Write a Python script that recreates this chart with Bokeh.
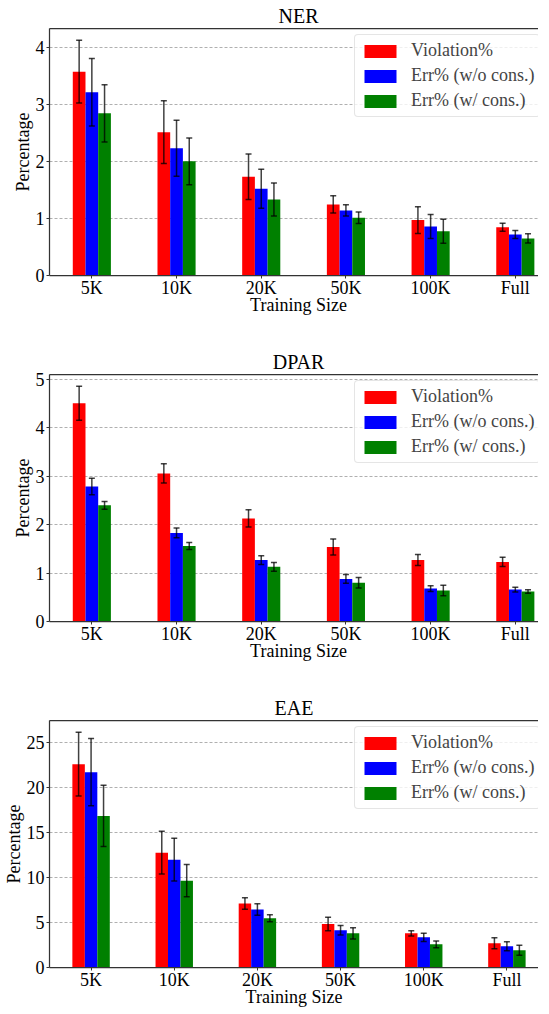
import numpy as np
from bokeh.plotting import figure
from bokeh.models import (ColumnDataSource, Range1d, FixedTicker, LinearAxis,
                          Whisker, TeeHead, Legend, LegendItem)
from bokeh.layouts import column
from bokeh.embed import file_html
from bokeh.resources import INLINE

# ---------------- data ----------------
sizes = ["5K", "10K", "20K", "50K", "100K", "Full"]
series_names = ["Violation%", "Err% (w/o cons.)", "Err% (w/ cons.)"]
colors = ["#ff0000", "#0000ff", "#008000"]

ner_violation = [3.57, 2.51, 1.73, 1.245, 0.97, 0.845]
ner_violation_sd = [0.55, 0.55, 0.40, 0.15, 0.235, 0.07]
ner_err_wo = [3.21, 2.23, 1.52, 1.14, 0.86, 0.72]
ner_err_wo_sd = [0.59, 0.49, 0.34, 0.10, 0.21, 0.07]
ner_err_w = [2.84, 2.00, 1.33, 1.01, 0.776, 0.65]
ner_err_w_sd = [0.50, 0.41, 0.29, 0.10, 0.21, 0.08]
ner_yticks = [0, 1, 2, 3, 4]

dpar_violation = [4.51, 3.06, 2.13, 1.54, 1.27, 1.23]
dpar_violation_sd = [0.35, 0.20, 0.18, 0.165, 0.115, 0.095]
dpar_err_wo = [2.79, 1.83, 1.27, 0.88, 0.68, 0.66]
dpar_err_wo_sd = [0.17, 0.10, 0.09, 0.09, 0.06, 0.05]
dpar_err_w = [2.40, 1.56, 1.13, 0.80, 0.64, 0.62]
dpar_err_w_sd = [0.08, 0.07, 0.09, 0.11, 0.11, 0.035]
dpar_yticks = [0, 1, 2, 3, 4, 5]

eae_violation = [22.64, 12.78, 7.13, 4.84, 3.80, 2.70]
eae_violation_sd = [3.55, 2.38, 0.64, 0.76, 0.30, 0.62]
eae_err_wo = [21.75, 12.00, 6.46, 4.14, 3.36, 2.36]
eae_err_wo_sd = [3.75, 2.38, 0.65, 0.53, 0.46, 0.50]
eae_err_w = [16.88, 9.67, 5.47, 3.80, 2.58, 1.92]
eae_err_w_sd = [3.40, 1.80, 0.39, 0.63, 0.37, 0.55]
eae_yticks = [0, 5, 10, 15, 20, 25]

# ---------------- style ----------------
FONT = "Liberation Serif"
BAR_W = 0.15
OFFSETS = [-0.15, 0.0, 0.15]
FIG_W = 533
FRAME_H = 247
AX_COL = "#333333"

LG_PAD, LG_ROW, LG_SP = 5, 21, 4


def make_panel(title, vals, sds, yticks, left_border, bottom_border):
    centers = np.arange(len(sizes)) + 0.5
    ymax = max(max(np.array(v) + np.array(s)) for v, s in zip(vals, sds)) * 1.05
    p = figure(width=FIG_W, frame_width=FIG_W - left_border, frame_height=FRAME_H,
               x_range=Range1d(0, 5.88), y_range=Range1d(0, ymax),
               output_backend="svg", toolbar_location=None,
               min_border_left=left_border, min_border_right=0,
               min_border_top=0, min_border_bottom=bottom_border)
    p.outline_line_color = None
    p.background_fill_color = "white"
    p.border_fill_color = "white"

    items = []
    for k in range(3):
        x = centers + OFFSETS[k]
        v = np.array(vals[k])
        s = np.array(sds[k])
        src = ColumnDataSource(dict(x=x, top=v, upper=v + s, lower=v - s))
        r = p.vbar(x="x", top="top", width=BAR_W, source=src,
                   fill_color=colors[k], line_color=None)
        items.append(LegendItem(label=series_names[k], renderers=[r]))
        wk = Whisker(source=src, base="x", upper="upper", lower="lower",
                     line_color="black", line_alpha=0.75, line_width=1.5,
                     level="annotation")
        wk.upper_head = TeeHead(size=6, line_color="black", line_alpha=0.75, line_width=1.5)
        wk.lower_head = TeeHead(size=6, line_color="black", line_alpha=0.75, line_width=1.5)
        p.add_layout(wk)

    # axes
    p.xaxis.ticker = FixedTicker(ticks=list(centers))
    p.xaxis.major_label_overrides = {float(c): lab for c, lab in zip(centers, sizes)}
    p.yaxis.ticker = FixedTicker(ticks=yticks)
    p.xaxis.axis_label = "Training Size"
    p.yaxis.axis_label = "Percentage"
    for ax in (p.xaxis, p.yaxis):
        ax.axis_line_color = AX_COL
        ax.axis_line_width = 1.25
        ax.major_tick_line_color = AX_COL
        ax.major_tick_out = 3
        ax.major_tick_in = 0
        ax.minor_tick_line_color = None
        ax.major_label_text_font = FONT
        ax.major_label_text_font_size = "18px"
        ax.major_label_text_font_style = "normal"
        ax.major_label_text_color = "black"
        ax.axis_label_text_font = FONT
        ax.axis_label_text_font_size = "18px"
        ax.axis_label_text_font_style = "normal"
        ax.axis_label_text_color = "black"
    p.xaxis.major_label_standoff = -1
    p.xaxis.axis_label_standoff = -6
    p.yaxis.major_label_standoff = 2
    p.yaxis.axis_label_standoff = 0

    top = LinearAxis(ticker=FixedTicker(ticks=[]), major_tick_out=0, major_tick_in=0,
                     minor_tick_out=0, minor_tick_in=0, major_label_standoff=0,
                     axis_line_color=AX_COL, axis_line_width=1.25)
    p.add_layout(top, "above")

    p.xgrid.visible = False
    p.ygrid.grid_line_color = "#b0b0b0"
    p.ygrid.grid_line_dash = "3 2"
    p.ygrid.grid_line_width = 1

    p.title.text = title
    p.title.align = "center"
    p.title.text_font = FONT
    p.title.text_font_size = "20px"
    p.title.text_font_style = "normal"
    p.title.text_color = "black"
    p.title.standoff = 4
    p.title.offset = 5

    lg_h = 2 * LG_PAD + 3 * LG_ROW + 2 * LG_SP
    legend = Legend(items=items, location=(357 - 8 - left_border, FRAME_H - 8 - lg_h),
                    label_text_font=FONT, label_text_font_size="18px",
                    glyph_width=40, glyph_height=16, label_height=LG_ROW,
                    spacing=LG_SP, padding=LG_PAD, label_standoff=11, margin=0,
                    border_line_color="#cccccc", border_line_width=1,
                    background_fill_color="white", background_fill_alpha=0.8)
    if "border_radius" in Legend.properties():
        legend.border_radius = 4
    p.add_layout(legend)
    return p


p1 = make_panel("NER", [ner_violation, ner_err_wo, ner_err_w],
                [ner_violation_sd, ner_err_wo_sd, ner_err_w_sd], ner_yticks, 35, 71)
p2 = make_panel("DPAR", [dpar_violation, dpar_err_wo, dpar_err_w],
                [dpar_violation_sd, dpar_err_wo_sd, dpar_err_w_sd], dpar_yticks, 35, 71)
p3 = make_panel("EAE", [eae_violation, eae_err_wo, eae_err_w],
                [eae_violation_sd, eae_err_wo_sd, eae_err_w_sd], eae_yticks, 44, 0)

layout = column(p1, p2, p3, spacing=0)
open("out.html", "w").write(file_html(layout, INLINE))
